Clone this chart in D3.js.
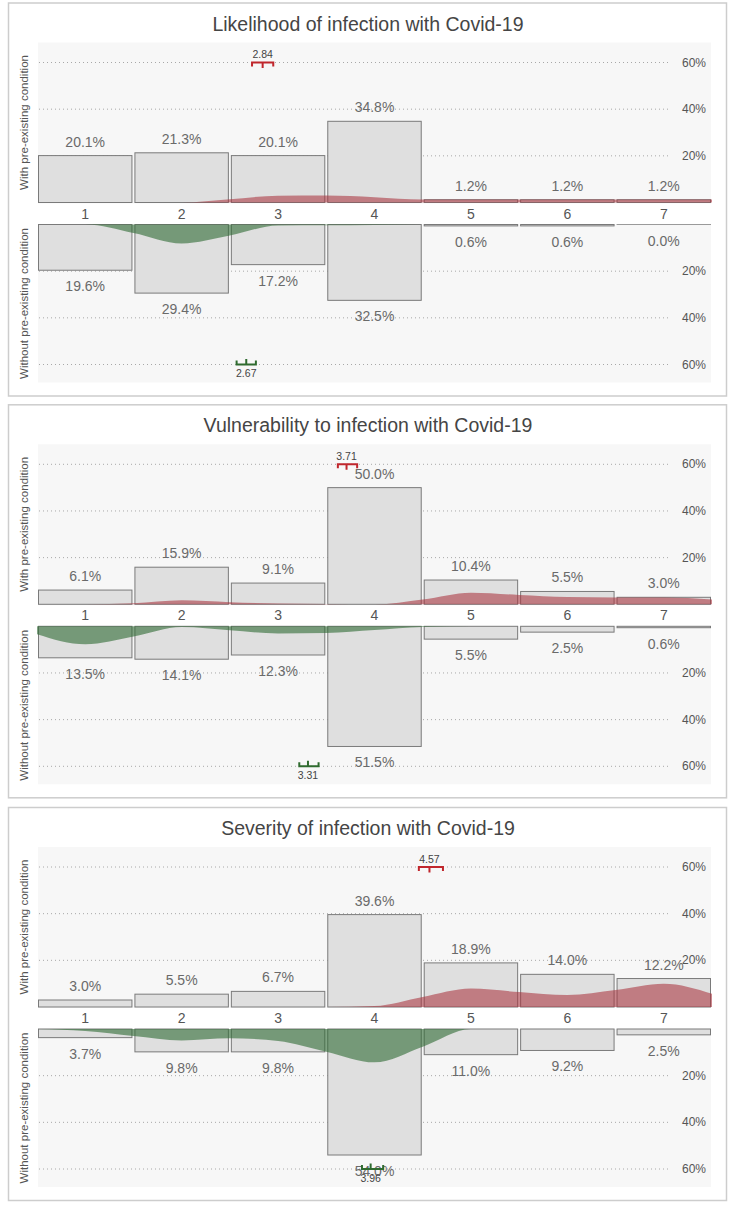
<!DOCTYPE html>
<html>
<head>
<meta charset="utf-8">
<script src="https://cdnjs.cloudflare.com/ajax/libs/d3/7.8.5/d3.min.js"></script>
<style>
  html, body { margin: 0; padding: 0; background: #ffffff; }
  svg { display: block; font-family: "Liberation Sans", Arial, Helvetica, sans-serif; }
</style>
</head>
<body>
<svg id="chart" width="733" height="1208"></svg>
<script>
// ---------------- DATA ----------------
const categories = ["1", "2", "3", "4", "5", "6", "7"];
const panelTitles = [
  "Likelihood of infection with Covid-19",
  "Vulnerability to infection with Covid-19",
  "Severity of infection with Covid-19"
];
const topGroupLabel = "With pre-existing condition";
const bottomGroupLabel = "Without pre-existing condition";

// percentages per category (1..7)
const likelihoodWith     = [20.1, 21.3, 20.1, 34.8, 1.2, 1.2, 1.2];
const likelihoodWithout  = [19.6, 29.4, 17.2, 32.5, 0.6, 0.6, 0.0];
const vulnerabilityWith    = [6.1, 15.9, 9.1, 50.0, 10.4, 5.5, 3.0];
const vulnerabilityWithout = [13.5, 14.1, 12.3, 51.5, 5.5, 2.5, 0.6];
const severityWith     = [3.0, 5.5, 6.7, 39.6, 18.9, 14.0, 12.2];
const severityWithout  = [3.7, 9.8, 9.8, 54.0, 11.0, 9.2, 2.5];

// smoothed density outlines (in % units) at these positions
const densityPositions = [0.5, 1, 1.5, 2, 2.5, 3, 3.5, 4, 4.5, 5, 5.5, 6, 6.5, 7, 7.5];
const likelihoodWithDensity     = [0, 0, 0, 0, 1.4, 2.9, 3.0, 2.3, 1.3, 1.3, 1.3, 1.3, 1.3, 1.3, 1.3];
const likelihoodWithoutDensity  = [0, 0, 3.6, 8.1, 4.7, 0.4, 0.3, 0.2, 0, 0, 0, 0, 0, 0, 0];
const vulnerabilityWithDensity    = [0, 0, 0.4, 1.7, 0.9, 0.3, 0.1, 0, 2.1, 5.0, 4.0, 3.1, 2.9, 2.9, 2.1];
const vulnerabilityWithoutDensity = [3.4, 7.7, 4.4, 0.3, 1.7, 3.1, 2.9, 1.6, 0.3, 0, 0, 0, 0, 0, 0];
const severityWithDensity     = [0, 0, 0, 0, 0, 0, 0, 0.4, 4.3, 7.9, 6.4, 5.1, 7.3, 10.0, 5.7];
const severityWithoutDensity  = [0, 0.9, 3.0, 4.9, 4.0, 5.1, 9.7, 14.3, 7.6, 0, 0, 0, 0, 0, 0];

// means with confidence interval ends
const meansWith       = [2.84, 3.71, 4.57];
const ciWithLow       = [2.73, 3.62, 4.46];
const ciWithHigh      = [2.95, 3.82, 4.71];
const meansWithout    = [2.67, 3.31, 3.96];
const ciWithoutLow    = [2.57, 3.22, 3.87];
const ciWithoutHigh   = [2.77, 3.42, 4.09];

const tickValues = [20, 40, 60];
const tickLabels = ["20%", "40%", "60%"];

const panels = [
  { title: panelTitles[0], top: likelihoodWith, bottom: likelihoodWithout,
    topDen: likelihoodWithDensity, botDen: likelihoodWithoutDensity },
  { title: panelTitles[1], top: vulnerabilityWith, bottom: vulnerabilityWithout,
    topDen: vulnerabilityWithDensity, botDen: vulnerabilityWithoutDensity },
  { title: panelTitles[2], top: severityWith, bottom: severityWithout,
    topDen: severityWithDensity, botDen: severityWithoutDensity }
];

// ---------------- DRAW ----------------
const svg = d3.select("#chart");
const panelTops = [2.5, 404.3, 807];

const xBand = d3.scaleBand().domain(categories).range([38.5, 710.5]).paddingInner(0.031).paddingOuter(0.0);
const xCont = d3.scaleLinear()
  .domain([1, 7])
  .range([xBand("1") + xBand.bandwidth() / 2, xBand("7") + xBand.bandwidth() / 2]);

const yTop = d3.scaleLinear().domain([0, 60]).range([200, 60]);
const yBot = d3.scaleLinear().domain([0, 60]).range([222, 362]);

const redFill = "#a8343e", greenFill = "#2e6b33";
const redLine = "#c0262c", greenLine = "#2f6b2f";

panels.forEach((p, i) => {
  const g = svg.append("g").attr("transform", `translate(0,${panelTops[i]})`);

  g.append("rect").attr("x", 8.5).attr("y", 0.5).attr("width", 718).attr("height", 393)
    .attr("fill", "#ffffff").attr("stroke", "#cdcdcd").attr("stroke-width", 1.5);

  g.append("text").attr("x", 368).attr("y", 28).attr("text-anchor", "middle")
    .attr("font-size", 19.5).attr("fill", "#454545").text(p.title);

  // facet backgrounds
  g.append("rect").attr("x", 38).attr("y", 40).attr("width", 673).attr("height", 161).attr("fill", "#f7f7f7");
  g.append("rect").attr("x", 38).attr("y", 222).attr("width", 673).attr("height", 158).attr("fill", "#f7f7f7");

  // gridlines + tick labels
  tickValues.forEach((t, k) => {
    [yTop(t), yBot(t)].forEach(yy => {
      g.append("line").attr("x1", 39).attr("x2", 668).attr("y1", yy).attr("y2", yy)
        .attr("stroke", "#a8a8a8").attr("stroke-width", 1).attr("stroke-dasharray", "1,3");
      g.append("text").attr("x", 682).attr("y", yy + 4).attr("font-size", 12)
        .attr("fill", "#555").text(tickLabels[k]);
    });
  });

  // bars
  g.selectAll(".barTop").data(p.top).enter().append("rect")
    .attr("x", (d, j) => xBand(categories[j]))
    .attr("y", d => yTop(d))
    .attr("width", xBand.bandwidth())
    .attr("height", d => Math.max(yTop(0) - yTop(d), 0.01))
    .attr("fill", "#dfdfdf").attr("stroke", "#7a7a7a").attr("stroke-width", 1);
  g.selectAll(".barBot").data(p.bottom).enter().append("rect")
    .attr("x", (d, j) => xBand(categories[j]))
    .attr("y", yBot(0))
    .attr("width", xBand.bandwidth())
    .attr("height", d => Math.max(yBot(d) - yBot(0), 0.01))
    .attr("fill", "#dfdfdf").attr("stroke", d => d === 0 ? "#9a9a9a" : "#7a7a7a").attr("stroke-width", 1);

  // densities
  const areaTop = d3.area().curve(d3.curveMonotoneX)
    .x((d, k) => xCont(densityPositions[k])).y0(yTop(0)).y1(d => yTop(d));
  const areaBot = d3.area().curve(d3.curveMonotoneX)
    .x((d, k) => xCont(densityPositions[k])).y0(yBot(0)).y1(d => yBot(d));
  g.append("path").datum(p.topDen).attr("d", areaTop).attr("fill", redFill).attr("fill-opacity", 0.58);
  g.append("path").datum(p.botDen).attr("d", areaBot).attr("fill", greenFill).attr("fill-opacity", 0.6);

  // value labels
  g.selectAll(".lblTop").data(p.top).enter().append("text")
    .attr("x", (d, j) => xBand(categories[j]) + xBand.bandwidth() / 2)
    .attr("y", d => yTop(d) - 9)
    .attr("text-anchor", "middle").attr("font-size", 14).attr("fill", "#6a6a6a")
    .text(d => d.toFixed(1) + "%");
  g.selectAll(".lblBot").data(p.bottom).enter().append("text")
    .attr("x", (d, j) => xBand(categories[j]) + xBand.bandwidth() / 2)
    .attr("y", d => yBot(d) + 21)
    .attr("text-anchor", "middle").attr("font-size", 14).attr("fill", "#6a6a6a")
    .text(d => d.toFixed(1) + "%");

  // category labels
  g.selectAll(".cat").data(categories).enter().append("text")
    .attr("x", d => xBand(d) + xBand.bandwidth() / 2).attr("y", 216)
    .attr("text-anchor", "middle").attr("font-size", 14).attr("fill", "#555").text(d => d);

  // mean brackets
  const yr = yTop(60), yg = yBot(60);
  const xl = xCont(ciWithLow[i]), xh = xCont(ciWithHigh[i]), xm = xCont(meansWith[i]);
  const br = g.append("g").attr("stroke", redLine).attr("stroke-width", 2).attr("fill", "none");
  br.append("path").attr("d", `M${xl},${yr + 4}V${yr}H${xh}V${yr + 4}M${xm},${yr}V${yr + 5.5}`);
  g.append("text").attr("x", xm).attr("y", yr - 4.5).attr("text-anchor", "middle")
    .attr("font-size", 10.5).attr("fill", "#444").text(meansWith[i].toFixed(2));

  const gl = xCont(ciWithoutLow[i]), gh = xCont(ciWithoutHigh[i]), gm = xCont(meansWithout[i]);
  const bg = g.append("g").attr("stroke", greenLine).attr("stroke-width", 2).attr("fill", "none");
  bg.append("path").attr("d", `M${gl},${yg - 4}V${yg}H${gh}V${yg - 4}M${gm},${yg}V${yg - 5.5}`);
  g.append("text").attr("x", gm).attr("y", yg + 12.5).attr("text-anchor", "middle")
    .attr("font-size", 10.5).attr("fill", "#444").text(meansWithout[i].toFixed(2));

  // group titles
  g.append("text").attr("transform", `translate(27.5,120) rotate(-90)`).attr("text-anchor", "middle")
    .attr("font-size", 11.5).attr("fill", "#555").text(topGroupLabel);
  g.append("text").attr("transform", `translate(27.5,301) rotate(-90)`).attr("text-anchor", "middle")
    .attr("font-size", 11.5).attr("fill", "#555").text(bottomGroupLabel);
});
</script>
</body>
</html>
